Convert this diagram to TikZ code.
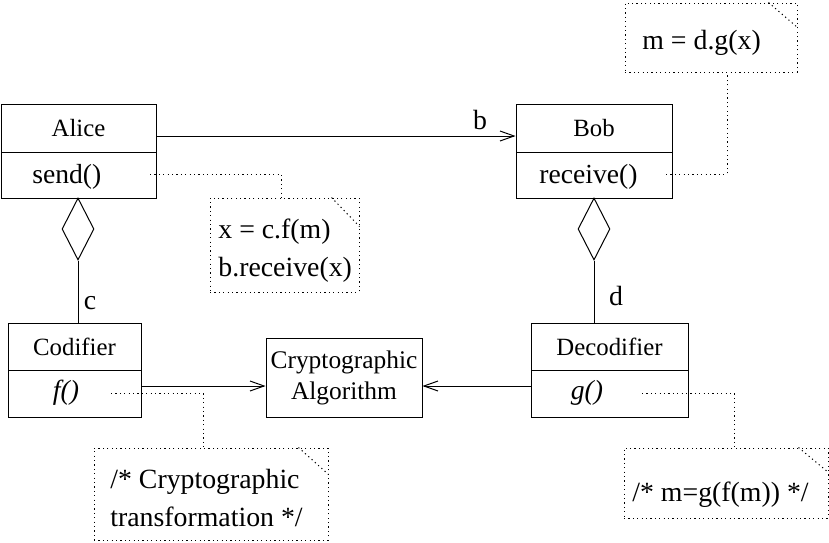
\documentclass[tikz,border=0pt]{standalone}
\usepackage{fontspec}
\setmainfont{Liberation Serif}
\usetikzlibrary{arrows.meta,shapes.geometric}
\begin{document}
\begin{tikzpicture}[x=0.5pt,y=-0.5pt,
  font=\fontsize{12.4}{15}\selectfont,
  box/.style={draw, line width=0.5pt, inner sep=0pt},
  txt/.style={inner sep=0pt},
  lbltxt/.style={inner sep=0pt, font=\fontsize{13.9}{15}\selectfont},
  methtxt/.style={inner sep=0pt, font=\fontsize{13.8}{19}\selectfont},
  notetxt/.style={inner sep=0pt, align=left, font=\fontsize{13.9}{19}\selectfont},
  solidline/.style={line width=0.5pt},
  dotline/.style={line width=0.5pt, dash pattern=on 0.6pt off 1.6pt},
  note/.style={draw, line width=0.5pt, dash pattern=on 0.6pt off 1.6pt, inner sep=0pt},
  rel/.style={line width=0.5pt, -{Straight Barb[length=7pt,width=5pt]}},
  agg/.style={diamond, draw, line width=0.5pt, inner sep=0pt, minimum width=16pt, minimum height=31pt}]
\useasboundingbox (0,0) rectangle (829,542);

% classes
\node[box, minimum width=77.5pt, minimum height=24pt] (alice) at (78.5,128) {Alice};
\node[box, minimum width=77.5pt, minimum height=23pt] (alicem) at (78.5,175) {};
\node[methtxt, anchor=west] (send) at (32,177) {send()};

\node[box, minimum width=78pt, minimum height=24pt] (bob) at (594,128) {Bob};
\node[box, minimum width=78pt, minimum height=23pt] (bobm) at (594,175) {};
\node[methtxt, anchor=west] (recv) at (539,177) {receive()};

\node[box, minimum width=66.5pt, minimum height=23.5pt] (cod) at (74.5,346.5) {Codifier};
\node[box, minimum width=66.5pt, minimum height=23.5pt] (codm) at (74.5,393.5) {};
\node[methtxt] (fm) at (66,393) {\itshape f()};

\node[box, minimum width=78.5pt, minimum height=23.5pt] (dec) at (609.5,346.5) {Decodifier};
\node[box, minimum width=78.5pt, minimum height=23.5pt] (decm) at (609.5,393.5) {};
\node[methtxt] (gm) at (587,393) {\itshape g()};

\node[box, minimum width=78pt, minimum height=39.5pt, align=center,
      font=\fontsize{12.7}{15.5}\selectfont] (crypto) at (344,377.5) {Cryptographic\\Algorithm};

% aggregation
\node[agg] (adia) at (78,229) {};
\node[agg] (bdia) at (594,229) {};
\draw[solidline] (adia.south) -- (adia.south |- cod.north);
\draw[solidline] (bdia.south) -- (bdia.south |- dec.north);
\node[lbltxt] (lc) at (90,303) {c};
\node[lbltxt] (ld) at (616,296) {d};

% associations
\draw[rel] ([yshift=-4pt]alice.east) -- ([yshift=-4pt]alice.east -| bob.west);
\node[lbltxt] (lb) at (480,120) {b};
\draw[rel] ([yshift=3.75pt]codm.east) -- ([yshift=3.75pt]codm.east -| crypto.west);
\draw[rel] ([yshift=3.75pt]decm.west) -- ([yshift=3.75pt]decm.west -| crypto.east);

% notes
\node[note, minimum width=86pt, minimum height=34.5pt] (n1) at (711,37.5) {};
\draw[dotline] ([xshift=-14.5pt]n1.north east) -- ([yshift=-12.5pt]n1.north east);
\node[notetxt, anchor=west] (t1) at (642,43) {m = d.g(x)};

\node[note, minimum width=74.5pt, minimum height=47pt] (n2) at (284.5,245) {};
\draw[dotline] ([xshift=-14pt]n2.north east) -- ([yshift=-14.5pt]n2.north east);
\node[notetxt, anchor=west] (t2) at (218,251) {x = c.f(m)\\b.receive(x)};

\node[note, minimum width=117pt, minimum height=46pt] (n3) at (211,494) {};
\draw[dotline] ([xshift=-15pt]n3.north east) -- ([yshift=-13.5pt]n3.north east);
\node[notetxt, anchor=west] (t3) at (110,498) {/* Cryptographic\\transformation */};

\node[note, minimum width=102pt, minimum height=35pt] (n4) at (726,483) {};
\draw[dotline] ([xshift=-15pt]n4.north east) -- ([yshift=-12.5pt]n4.north east);
\node[notetxt, anchor=west] (t4) at (632,495) {/* m=g(f(m)) */};

% note links
\coordinate (s1) at (666,174);
\coordinate (s2) at (150,174);
\coordinate (s3) at (111,393);
\coordinate (s4) at (642,393);
\draw[dotline] (s1) -| ([xshift=8pt]n1.south);
\draw[dotline] (s2) -| ([xshift=-1.75pt]n2.north);
\draw[dotline] (s3) -| ([xshift=-4pt]n3.north);
\draw[dotline] (s4) -| ([xshift=4pt]n4.north);
\end{tikzpicture}
\end{document}
